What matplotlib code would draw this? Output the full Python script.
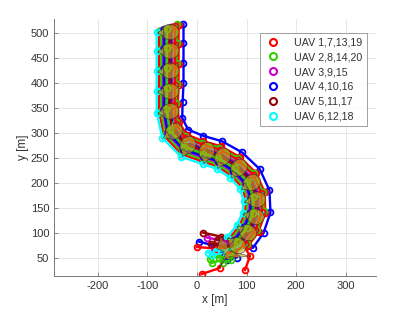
import numpy as np
import matplotlib
matplotlib.use("Agg")
import matplotlib.pyplot as plt
from matplotlib.patches import Ellipse, Polygon
from matplotlib.lines import Line2D

plt.rcParams['font.family'] = ['Liberation Sans', 'DejaVu Sans']
plt.rcParams['axes.unicode_minus'] = False

# colours cycle over UAV index (1..20)
group_colors = ['#ff0000', '#33cc00', '#cc00cc', '#0000ff', '#990000', '#00ffff']
group_labels = ['UAV 1,7,13,19', 'UAV 2,8,14,20', 'UAV 3,9,15',
                'UAV 4,10,16', 'UAV 5,11,17', 'UAV 6,12,18']

# start positions of the 20 UAVs [m]
start_x = [10, 26, 20, 4, 12, 22, 97, 30, 35, 50, 40, 30, 0, 45, 55, 60, 28, 38, 65, 52]
start_y = [17, 47, 90, 82, 100, 60, 25, 39, 70, 62, 85, 55, 71, 50, 80, 45, 78, 64, 58, 40]

# positions at the first sample, formation not yet reached
step1_x = [46, 50, 52, 42, 48, 55, 107, 58, 62, 70, 60, 58, 40, 66, 70, 80, 62, 64, 75, 68]
step1_y = [29, 55, 84, 72, 92, 62, 53, 48, 72, 62, 80, 58, 68, 52, 76, 50, 70, 64, 60, 45]

# formation centre at the following samples [m]
centre_x = [82, 103, 118, 121, 111, 85, 52, 20, -18, -46, -54, -54, -54, -54, -54]
centre_y = [74, 100, 132, 166, 200, 230, 252, 263, 275, 303, 343, 383, 424, 464, 502]

# slot of every UAV in the formation: lateral (+ = right) and along-track offset [m]
slot_lat = [-22, -18, -14, 27, -10, -27, 4, 11, 7, 1, 15, -5, 17, 13, -2, -12, -1, 9, 10, -7]
slot_along = [2, 3, 4, 16, 5, 0, 10, 12, 10, 9, 14, 7, 13, 15, 7, 5, 8, 11, 12, 6]

cx = np.array(centre_x, float)
cy = np.array(centre_y, float)
hx = np.gradient(cx)
hy = np.gradient(cy)
hn = np.hypot(hx, hy)
hx, hy = hx / hn, hy / hn
rx, ry = hy, -hx  # right-hand normal

fig = plt.figure(figsize=(4.15, 3.12), dpi=100)
ax = fig.add_axes([54 / 415, 36 / 312, 322 / 415, 257 / 312])

for i in range(20):
    col = group_colors[i % 6]
    px = [start_x[i], step1_x[i]] + list(cx + slot_along[i] * hx + slot_lat[i] * rx)
    py = [start_y[i], step1_y[i]] + list(cy + slot_along[i] * hy + slot_lat[i] * ry)
    ax.plot(px, py, color=col, lw=1.7, marker='o', ms=4.2, mfc='none', mew=1.3, zorder=2)

face = (0.74, 0.66, 0.1, 0.62)
edge = (0.15, 0.15, 0.15, 0.85)

# loose cluster at first sample
p1 = np.column_stack([step1_x, step1_y]).astype(float)
m1 = p1.mean(axis=0)
order = np.argsort(np.arctan2(p1[:, 1] - m1[1], p1[:, 0] - m1[0]))
ax.add_patch(Polygon(p1[order], closed=True, fc=face, ec=edge, lw=0.4, zorder=3))

for k in range(len(cx)):
    ang = np.degrees(np.arctan2(ry[k], rx[k]))
    ax.add_patch(Ellipse((cx[k], cy[k]), 36, 31, angle=ang, fc=face, ec=edge, lw=0.4, zorder=3))
    tip = [(cx[k] - 25 * rx[k] - 2 * hx[k], cy[k] - 25 * ry[k] - 2 * hy[k]),
           (cx[k] - 13 * rx[k] + 7 * hx[k], cy[k] - 13 * ry[k] + 7 * hy[k]),
           (cx[k] - 13 * rx[k] - 9 * hx[k], cy[k] - 13 * ry[k] - 9 * hy[k])]
    ax.add_patch(Polygon(tip, closed=True, fc=face, ec=edge, lw=0.4, zorder=3))

ax.set_xlim(-288, 361)
ax.set_ylim(13, 528)
ax.set_xticks([-200, -100, 0, 100, 200, 300])
ax.set_yticks(np.arange(50, 501, 50))
ax.grid(True, color='#e3e3e3', lw=0.6)
ax.set_axisbelow(True)
for s in ['top', 'right']:
    ax.spines[s].set_visible(False)
for s in ['left', 'bottom']:
    ax.spines[s].set_color('#777777')
    ax.spines[s].set_linewidth(0.7)
ax.tick_params(direction='in', length=3, width=0.6, color='#777777',
               labelsize=8, labelcolor='#333333')
ax.set_xlabel('x [m]', fontsize=8.5, color='#333333', labelpad=2)
ax.set_ylabel('y [m]', fontsize=8.5, color='#333333', labelpad=1)

handles = [Line2D([], [], ls='none', marker='o', ms=5, mfc='none', mew=1.5, color=c)
           for c in group_colors]
leg = ax.legend(handles, group_labels, loc='upper right', bbox_to_anchor=(0.972, 0.945),
                borderaxespad=0, fontsize=7.7, frameon=True, fancybox=False,
                handlelength=1.6, handletextpad=1.2, labelspacing=0.45, borderpad=0.4)
leg.get_frame().set_edgecolor('#888888')
leg.get_frame().set_linewidth(0.7)
for t in leg.get_texts():
    t.set_color('#333333')

fig.savefig('out.png', dpi=100)
